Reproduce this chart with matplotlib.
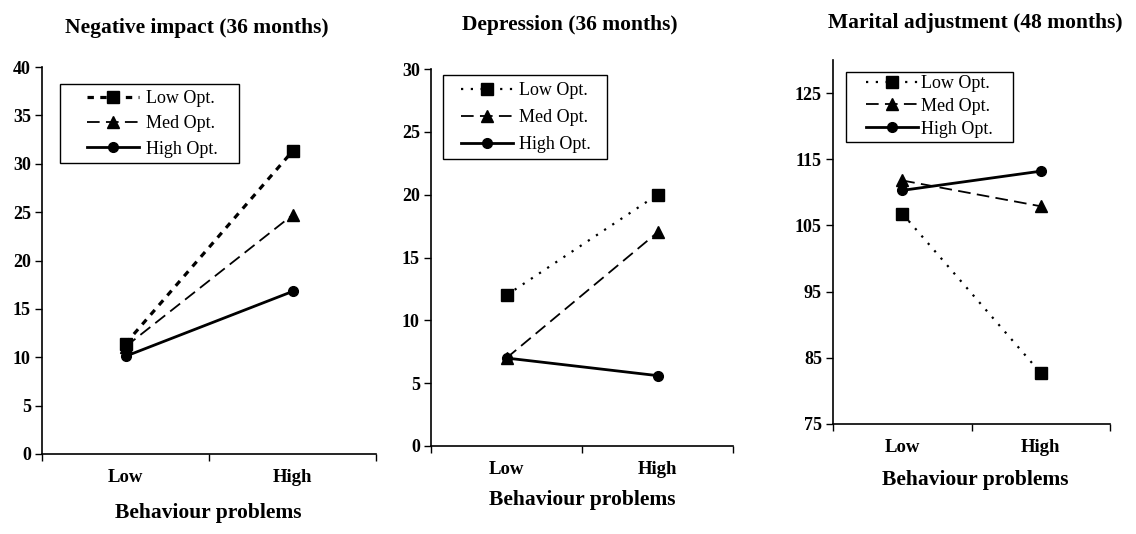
import matplotlib
matplotlib.use('Agg')
import matplotlib.pyplot as plt
from matplotlib.patches import Rectangle

plt.rcParams['font.family'] = ['Liberation Serif', 'DejaVu Serif']

# данные
groups = ['Low Opt.', 'Med Opt.', 'High Opt.']
categories = ['Low', 'High']

titles = ['Negative impact (36 months)', 'Depression (36 months)', 'Marital adjustment (48 months)']

neg_low = [11.4, 31.3]
neg_med = [11.1, 24.7]
neg_high = [10.1, 16.8]

dep_low = [12.0, 20.0]
dep_med = [7.0, 17.0]
dep_high = [7.0, 5.6]

mar_low = [106.8, 82.7]
mar_med = [111.8, 107.9]
mar_high = [110.3, 113.2]

ylims = [(0, 40), (0, 30), (75, 130)]
yticks = [list(range(0, 41, 5)), list(range(0, 31, 5)), list(range(75, 126, 10))]

W, H = 1136, 534

# позиции панелей (в пикселях: left, top, right, bottom)
axes_px = [(42, 67, 376, 454), (431, 69, 733, 446), (833, 60, 1110, 424)]
title_px = [(197, 28), (570, 25), (975, 23)]
xlabel_px = [(208, 513), (582, 500), (975, 480)]
legend_px = [(87, 90), (461, 82), (866, 75)]
legbox_px = [(60, 84, 239, 163), (443, 75, 607, 159), (846, 72, 1013, 142)]
leg_spacing = [0.46, 0.55, 0.32]
leg_textpad = [0.35, 0.3, 0.15]

fig = plt.figure(figsize=(W / 100, H / 100), dpi=100)

panels = [(neg_low, neg_med, neg_high), (dep_low, dep_med, dep_high), (mar_low, mar_med, mar_high)]
x = [0.5, 1.5]

for i, (lo, me, hi) in enumerate(panels):
    l, t, r, b = axes_px[i]
    ax = fig.add_axes([l / W, 1 - b / H, (r - l) / W, (b - t) / H])
    if i == 0:
        low_style = dict(linestyle=(0, (2, 2)), linewidth=2.3)
    else:
        low_style = dict(linestyle=(0, (1, 3.4)), linewidth=1.6)
    ax.plot(x, lo, color='black', marker='s', markersize=8.6, label=groups[0], **low_style)
    ax.plot(x, me, color='black', marker='^', markersize=8.6, linestyle=(0, (7, 3.5)),
            linewidth=1.3, label=groups[1])
    ax.plot(x, hi, color='black', marker='o', markersize=7, linestyle='-',
            linewidth=2.0, label=groups[2])

    ax.set_xlim(0, 2)
    ax.set_ylim(*ylims[i])
    ax.set_yticks(yticks[i])
    ax.set_yticklabels([str(v) for v in yticks[i]], fontweight='bold', fontsize=13)
    ax.set_xticks([0, 1, 2])
    ax.set_xticklabels([])
    ax.set_xticks(x, minor=True)
    ax.set_xticklabels(categories, minor=True, fontweight='bold', fontsize=13.5)
    ax.tick_params(axis='x', which='minor', length=0, pad=11)
    ax.tick_params(axis='x', which='major', length=5, width=1, direction='out')
    ax.tick_params(axis='y', length=5, width=1, direction='out', pad=3)

    for s in ['top', 'right']:
        ax.spines[s].set_visible(False)
    for s in ['left', 'bottom']:
        ax.spines[s].set_linewidth(1.2)

    tx, ty = title_px[i]
    fig.text(tx / W, 1 - ty / H, titles[i], fontweight='bold', fontsize=15.5,
             ha='center', va='center')
    lx, ly = xlabel_px[i]
    fig.text(lx / W, 1 - ly / H, 'Behaviour problems', fontweight='bold', fontsize=15.5,
             ha='center', va='center')

    gx, gy = legend_px[i]
    ax.legend(loc='upper left', bbox_to_anchor=(gx / W, 1 - gy / H),
              bbox_transform=fig.transFigure, fontsize=13,
              handlelength=2.9, handletextpad=leg_textpad[i], labelspacing=leg_spacing[i],
              borderpad=0, borderaxespad=0, frameon=False)
    bl, bt, br, bb = legbox_px[i]
    fig.patches.append(Rectangle((bl / W, 1 - bb / H), (br - bl) / W, (bb - bt) / H,
                                 transform=fig.transFigure, fill=False,
                                 edgecolor='black', linewidth=1.0))

plt.savefig('out.png', dpi=100)
